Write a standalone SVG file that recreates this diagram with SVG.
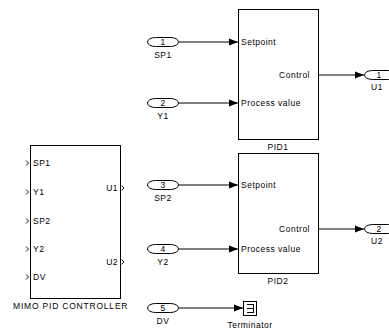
<svg xmlns="http://www.w3.org/2000/svg" width="389" height="331" viewBox="0 0 389 331">
<style>
text{font-family:"Liberation Sans",Arial,sans-serif;font-size:8.5px;fill:#000;letter-spacing:0.5px}
.blk{fill:#fff;stroke:#000;stroke-width:1}
.port{fill:#fff;stroke:#000;stroke-width:1}
.wire{fill:none;stroke:#000;stroke-width:1}
.chev{fill:none;stroke:#000;stroke-width:0.9}
.c{text-anchor:middle}
.e{text-anchor:end}
</style>
<defs>
<marker id="ah" markerWidth="9" markerHeight="8" refX="9" refY="4" orient="auto" markerUnits="userSpaceOnUse">
<path d="M0,0.5 L9,4 L0,7.5 Z" fill="#000"/>
</marker>
</defs>
<g id="mimo">
<rect class="blk" x="30.5" y="145.5" width="90" height="153"/>
<path class="chev" d="M26,160.5 L28.5,163 L26,165.5 M26,189.5 L28.5,192 L26,194.5 M26,218.5 L28.5,221 L26,223.5 M26,246.5 L28.5,249 L26,251.5 M26,274.5 L28.5,277 L26,279.5 M121.5,185.5 L124,188 L121.5,190.5 M121.5,259.5 L124,262 L121.5,264.5"/>
<text x="33" y="166">SP1</text>
<text x="33" y="195">Y1</text>
<text x="33" y="224">SP2</text>
<text x="33" y="252">Y2</text>
<text x="33" y="280">DV</text>
<text class="e" x="118" y="191">U1</text>
<text class="e" x="118" y="265">U2</text>
<text x="13" y="309" textLength="115">MIMO PID CONTROLLER</text>
</g>
<g id="pid1">
<rect class="blk" x="238.5" y="9.5" width="80" height="130"/>
<text x="241" y="45">Setpoint</text>
<text x="241" y="106">Process value</text>
<text class="e" x="310" y="78">Control</text>
<text class="c" x="278" y="150">PID1</text>
</g>
<g id="pid2">
<rect class="blk" x="238.5" y="153.5" width="80" height="120"/>
<text x="241" y="188">Setpoint</text>
<text x="241" y="252">Process value</text>
<text class="e" x="310" y="232">Control</text>
<text class="c" x="278" y="284">PID2</text>
</g>
<g id="in_sp1">
<rect class="port" x="147.5" y="37.5" width="31" height="9" rx="8" ry="4.5"/>
<text class="c" x="163" y="45">1</text>
<text class="c" x="163" y="58">SP1</text>
</g>
<g id="in_y1">
<rect class="port" x="147.5" y="98.5" width="31" height="9" rx="8" ry="4.5"/>
<text class="c" x="163" y="106">2</text>
<text class="c" x="163" y="119">Y1</text>
</g>
<g id="in_sp2">
<rect class="port" x="147.5" y="180.5" width="31" height="9" rx="8" ry="4.5"/>
<text class="c" x="163" y="188">3</text>
<text class="c" x="163" y="201">SP2</text>
</g>
<g id="in_y2">
<rect class="port" x="147.5" y="244.5" width="31" height="9" rx="8" ry="4.5"/>
<text class="c" x="163" y="252">4</text>
<text class="c" x="163" y="265">Y2</text>
</g>
<g id="in_dv">
<rect class="port" x="147.5" y="303.5" width="31" height="9" rx="8" ry="4.5"/>
<text class="c" x="163" y="311">5</text>
<text class="c" x="163" y="324">DV</text>
</g>
<g id="out_u1">
<rect class="port" x="364.5" y="70.5" width="31" height="9" rx="8" ry="4.5"/>
<text class="c" x="379" y="78">1</text>
<text class="c" x="377" y="90">U1</text>
</g>
<g id="out_u2">
<rect class="port" x="364.5" y="224.5" width="31" height="9" rx="8" ry="4.5"/>
<text class="c" x="379" y="232">2</text>
<text class="c" x="377" y="244">U2</text>
</g>
<g id="terminator">
<rect class="blk" x="243.5" y="301.5" width="13" height="14"/>
<path class="wire" d="M253.5,304 L253.5,313 M247,304.5 L253.5,304.5 M247,308.5 L253.5,308.5 M247,312.5 L253.5,312.5"/>
<text class="c" x="250" y="328">Terminator</text>
</g>
<g id="connectors">
<path class="wire" marker-end="url(#ah)" d="M179,42 L238,42"/>
<path class="wire" marker-end="url(#ah)" d="M179,103 L238,103"/>
<path class="wire" marker-end="url(#ah)" d="M179,185 L238,185"/>
<path class="wire" marker-end="url(#ah)" d="M179,249 L238,249"/>
<path class="wire" marker-end="url(#ah)" d="M179,308 L243,308"/>
<path class="wire" marker-end="url(#ah)" d="M319,75 L364,75"/>
<path class="wire" marker-end="url(#ah)" d="M319,229 L364,229"/>
</g>
</svg>
